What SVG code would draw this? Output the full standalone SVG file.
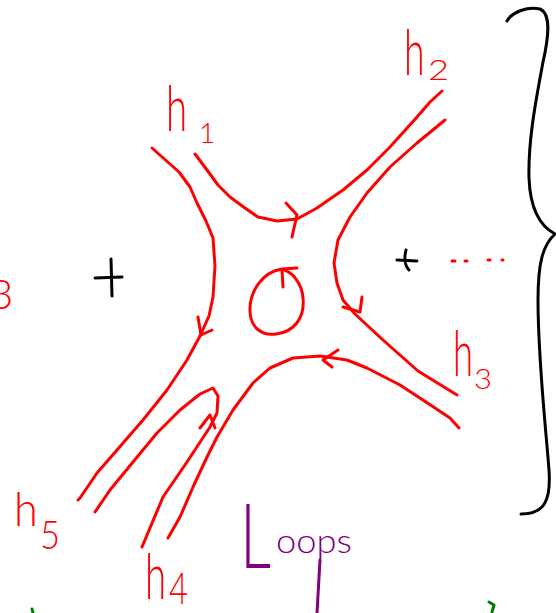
<svg xmlns="http://www.w3.org/2000/svg" width="556" height="613" viewBox="0 0 556 613">
<style>
.r{fill:none;stroke:#ff0000;stroke-width:3;stroke-linecap:round;stroke-linejoin:round}
.k{fill:none;stroke:#000;stroke-width:3;stroke-linecap:round;stroke-linejoin:round}
.p{fill:none;stroke:#800080;stroke-width:3;stroke-linecap:round;stroke-linejoin:round}
.g{fill:none;stroke:#008000;stroke-width:3;stroke-linecap:round;stroke-linejoin:round}
.lbl{font-family:Lato,"Liberation Sans",Arial,sans-serif;font-weight:300;fill:#ff0000}
.lp{font-family:Lato,"Liberation Sans",Arial,sans-serif;font-weight:300;fill:#800080}
.h{font-size:48px}
</style>
<rect width="556" height="613" fill="#fff"/>
<g id="connectors">
  <path id="lineA" class="r" d="M152,148 L179,172 L190,187 L197,203 L206,221 L213,238 L215,266 L213,297 L209,316 L200,336 L187,360 L167,390 L143,420 L117,450 L97,473 L80,498 L78,500"/>
  <path class="r" d="M198,317 L201,335 L212,330"/>
  <path id="lineB" class="r" d="M195,154 L207,170 L218,185 L230,197 L245,208 L258,217 L277,221 L297,219 L317,208 L343,190 L367,170 L390,147 L417,117 L430,102 L442,91"/>
  <path class="r" d="M286,203 L297,215 L292,237"/>
  <path id="lineC" class="r" d="M445,120 L417,143 L390,167 L367,193 L350,217 L338,240 L334,263 L337,283 L343,300 L355,314 L383,340 L418,371 L457,395"/>
  <path class="r" d="M343,307 L360,312 L362,297"/>
  <path id="lineD" class="r" d="M459,428 L450,418 L426,402 L400,385 L367,368 L347,360 L320,356 L293,358 L270,368 L253,383 L233,410 L217,437 L207,457 L193,487 L180,517 L168,538"/>
  <path class="r" d="M338,350 L323,360 L332,367"/>
  <path id="lineE" class="r" d="M95,512 L110,490 L133,462 L157,433 L180,410 L200,394 L213,388 L218,396 L217,413 L210,427 L187,462 L163,497 L142,547"/>
  <path class="r" d="M200,428 L210,415 L215,428"/>
  <path id="loop" class="r" d="M297,268 L282,269 C262,272 249,292 250,312 C251,328 262,336 276,334 C294,332 305,318 303,298 C302,284 293,272 282,269"/>
  <path class="r" d="M282,270 L283,287"/>
</g>
<g id="plus-left"><path class="k" d="M95,278 L122,277 M111,259 L112,296"/></g>
<g id="plus-right"><path class="k" d="M397,260 L417,261 M406,250 C404,258 405,266 409,270"/></g>
<g id="dots"><path class="r" d="M452,261 L455,261 M465,261 L467,261 M488,260 L490,260 M502,260 L503,260"/></g>
<g id="brace"><path class="k" d="M507,21 C512,12 528,6 540,9 C552,14 548,40 543,62 C536,100 528,140 529,178 C530,205 538,225 555,234 C543,245 538,262 538,300 C538,360 546,430 549,470 C551,500 545,514 521,514"/></g>
<g id="label-h1">
  <text class="lbl h" transform="translate(166,131) scale(0.8,1.3)">h</text>
  <text class="lbl" x="199" y="143" font-size="28">1</text>
</g>
<g id="label-h2">
  <text class="lbl h" transform="translate(404,75) scale(0.78,1.3)">h</text>
  <text class="lbl" x="428" y="80" font-size="28" textLength="21" lengthAdjust="spacingAndGlyphs">2</text>
</g>
<g id="label-h3">
  <text class="lbl h" transform="translate(453,376) scale(0.76,1.3)">h</text>
  <text class="lbl" x="474" y="389" font-size="28" textLength="18" lengthAdjust="spacingAndGlyphs">3</text>
</g>
<g id="label-h4">
  <text class="lbl h" transform="translate(145,599) scale(0.8,1.3)">h</text>
  <text class="lbl" x="169" y="604" font-size="44" textLength="19" lengthAdjust="spacingAndGlyphs">4</text>
</g>
<g id="label-h5">
  <text class="lbl h" transform="translate(14,526) scale(0.9,1.0)">h</text>
  <text class="lbl" x="40" y="549" font-size="40" textLength="20" lengthAdjust="spacingAndGlyphs">5</text>
</g>
<g id="label-edge3"><text class="lbl" x="-11" y="309" font-size="42">3</text></g>
<g id="title">
  <text class="lp" transform="translate(240,568) scale(0.85,1.25)" font-size="72">L</text>
  <text class="lp" x="276" y="553" font-size="34" textLength="76" lengthAdjust="spacingAndGlyphs">oops</text>
  <path class="p" d="M320,560 L317,613"/>
</g>
<g id="fragments"><path class="g" d="M32,609 L33,613 M489,602 L494,605 L492,612"/></g>
</svg>
